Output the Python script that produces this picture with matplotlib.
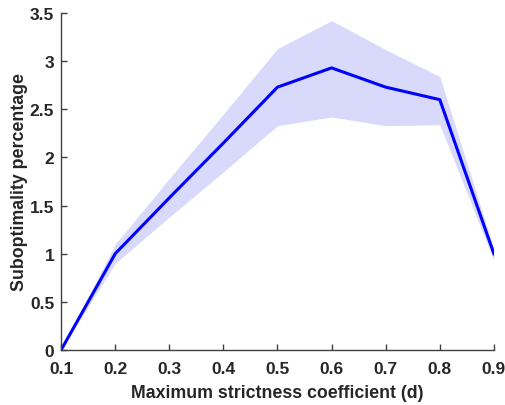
import numpy as np
import matplotlib.pyplot as plt

# strictness coefficient d and suboptimality (mean with band)
d_values = [0.1, 0.2, 0.3, 0.4, 0.5, 0.6, 0.7, 0.8, 0.9]
mean_pct = [0.0, 1.0, 1.58, 2.15, 2.73, 2.93, 2.73, 2.60, 1.0]
upper_pct = [0.0, 1.10, 1.78, 2.45, 3.13, 3.42, 3.12, 2.84, 1.05]
lower_pct = [0.0, 0.90, 1.38, 1.85, 2.33, 2.42, 2.33, 2.34, 0.93]

x_ticks = [0.1, 0.2, 0.3, 0.4, 0.5, 0.6, 0.7, 0.8, 0.9]
y_ticks = [0, 0.5, 1, 1.5, 2, 2.5, 3, 3.5]

plt.rcParams['font.family'] = ['Liberation Sans', 'DejaVu Sans']

fig = plt.figure(figsize=(5.05, 4.06), dpi=100)
ax = fig.add_axes([0.121, 0.1355, 0.857, 0.83])

ax.fill_between(d_values, lower_pct, upper_pct, color='#d9d9fc', linewidth=0)
ax.plot(d_values, mean_pct, color='#0000ff', linewidth=2.2)

ax.set_xlim(0.1, 0.9)
ax.set_ylim(0, 3.5)
ax.set_xticks(x_ticks)
ax.set_xticklabels([f'{v:g}' for v in x_ticks])
ax.set_yticks(y_ticks)
ax.set_yticklabels([f'{v:g}' for v in y_ticks])

for side in ['top', 'right']:
    ax.spines[side].set_visible(False)
for side in ['left', 'bottom']:
    ax.spines[side].set_color('#404040')
    ax.spines[side].set_linewidth(1.0)

ax.tick_params(direction='in', length=4, width=1, color='#404040',
               labelsize=12.5, labelcolor='#262626')
ax.tick_params(axis='x', pad=8)
ax.tick_params(axis='y', pad=5)
for lbl in ax.get_xticklabels() + ax.get_yticklabels():
    lbl.set_fontweight('bold')

ax.set_xlabel('Maximum strictness coefficient (d)', fontsize=12.8,
              fontweight='bold', color='#262626', labelpad=6)
ax.set_ylabel('Suboptimality percentage', fontsize=12.8,
              fontweight='bold', color='#262626', labelpad=1)

fig.savefig('out.png', dpi=100)
